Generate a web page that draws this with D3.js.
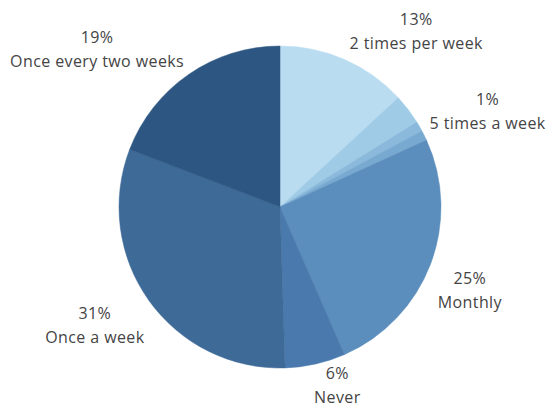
<!DOCTYPE html>
<html>
<head>
<meta charset="utf-8">
<script src="https://cdn.jsdelivr.net/npm/d3@7"></script>
<style>
  html, body { margin: 0; padding: 0; background: #fff; }
  svg { display: block; }
</style>
</head>
<body>
<svg id="chart" width="547" height="408"></svg>
<script>
// Data (clockwise from 12 o'clock)
const categories = ["2 times per week", "3 times per week", "4 times per week", "5 times a week",
                    "Monthly", "Never", "Once a week", "Once every two weeks"];
const values = [13, 3, 1, 1, 25, 6, 31, 19];
const percentLabels = ["13%", "", "", "1%", "25%", "6%", "31%", "19%"];
const colors = ["#b9dcf0", "#9fcbe6", "#8ab9db", "#78a9d0", "#5b8ebd", "#4a7aad", "#3e6a98", "#2d5782"];

// Layout
const W = 547, H = 408;
const cx = 280, cy = 207, R = 161, labelR = 215;
const labelNudge = {
  "2 times per week": [50, 22],
  "5 times a week": [15, 0],
  "Monthly": [-11, 7],
  "Never": [10, -31],
  "Once a week": [-10, -6],
  "Once every two weeks": [-61, 20]
};

const svg = d3.select("#chart");
const g = svg.append("g").attr("transform", `translate(${cx},${cy})`);

const data = categories.map((c, i) => ({ name: c, value: values[i], pct: percentLabels[i], color: colors[i] }));
const pie = d3.pie().value(d => d.value).sort(null);
const arc = d3.arc().innerRadius(0).outerRadius(R);
const labelArc = d3.arc().innerRadius(labelR).outerRadius(labelR);
const arcs = pie(data);

g.selectAll("path.slice")
  .data(arcs)
  .join("path")
  .attr("class", "slice")
  .attr("d", arc)
  .attr("fill", d => d.data.color)
  .attr("stroke", d => d.data.color)
  .attr("stroke-width", 0.5);

const labels = g.selectAll("g.label")
  .data(arcs.filter(d => d.data.pct !== ""))
  .join("g")
  .attr("class", "label")
  .attr("transform", d => {
    const [x, y] = labelArc.centroid(d);
    const n = labelNudge[d.data.name] || [0, 0];
    return `translate(${x + n[0]},${y + n[1]})`;
  });

const textStyle = sel => sel
  .attr("text-anchor", "middle")
  .attr("font-family", "'Open Sans', sans-serif")
  .attr("font-size", 16)
  .attr("letter-spacing", 0.4)
  .attr("fill", "#444");

labels.append("text")
  .call(textStyle)
  .attr("y", -7)
  .text(d => d.data.pct);

labels.append("text")
  .call(textStyle)
  .attr("y", 17)
  .text(d => d.data.name);
</script>
</body>
</html>
